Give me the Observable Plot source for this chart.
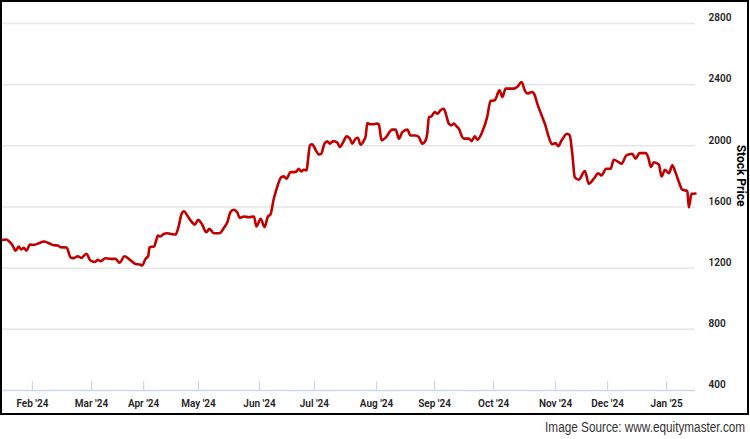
<!DOCTYPE html>
<html>
<head>
<meta charset="utf-8">
<script src="https://cdn.jsdelivr.net/npm/d3@7"></script>
<script src="https://cdn.jsdelivr.net/npm/@observablehq/plot@0.6"></script>
<style>
  html, body { margin: 0; padding: 0; background: #fff; }
  #wrap { width: 750px; }
  #chart svg { display: block; }
  #caption { font: 14px/16px "Liberation Sans", Arial, sans-serif; color: #333; text-align: right; padding-right: 5px; margin-top: 3px; }
  #caption span { display: inline-block; transform: scaleX(0.84); transform-origin: right center; }
</style>
</head>
<body>
<div id="wrap"><div id="chart"></div><div id="caption"><span>Image Source: www.equitymaster.com</span></div></div>
<script>
// Trading-day index (ordinal axis, ~2.8 px per session) and closing price
const days = [0,2.1,3.0,4.2,5.4,6.5,7.4,8.3,9.3,10.5,11.9,13.7,15.5,17.3,19.0,20.5,21.4,23.6,25.0,26.0,27.6,28.8,30.7,32.1,33.6,34.8,35.7,37.5,39.3,41.1,42.5,44.3,45.8,48.2,50.0,50.6,51.8,52.8,53.2,54.8,55.6,56.2,57.1,58.3,59.5,62.5,63.7,64.6,65.5,66.7,67.9,69.4,70.6,72.0,73.5,74.6,76.2,78.2,79.8,81.0,82.1,83.3,84.5,85.5,86.9,88.7,90.5,91.4,92.9,94.3,95.5,96.4,97.6,98.6,100.3,101.2,102.1,103.6,104.8,105.7,106.5,107.4,108.3,109.3,109.8,110.5,111.3,112.5,113.7,114.5,115.7,116.7,117.6,118.8,120.3,121.2,122.4,123.6,124.8,125.6,126.8,127.6,128.6,129.8,130.4,131.0,131.9,132.8,134.5,135.1,136.1,137.5,139.9,141.1,142.3,143.5,145.3,146.4,148.2,149.4,150.6,151.5,152.4,153.0,153.9,155.1,156.0,157.1,158.3,159.2,160.1,161.1,161.9,163.1,163.7,164.9,165.5,167.3,168.2,169.4,170.3,172.0,173.8,175.0,176.5,178.2,179.2,180.4,182.1,183.3,184.5,186.1,187.3,188.1,189.9,190.8,191.7,193.5,194.6,195.8,197.0,198.2,199.2,200.4,202.4,203.3,204.2,205.1,206.5,208.7,210.1,211.9,213.5,214.6,216.3,217.9,219.0,220.8,221.8,223.5,225.6,226.8,228.2,230.4,231.3,232.3,233.3,235.1,236.1,237.3,238.7,239.9,240.8,242.3,243.5,245.3,245.8,246.8,248.2];
const prices = [1381,1387,1376,1352,1315,1341,1322,1333,1315,1354,1352,1363,1374,1363,1350,1348,1337,1335,1271,1265,1278,1267,1294,1250,1241,1254,1245,1265,1261,1261,1235,1278,1261,1228,1223,1217,1261,1282,1337,1341,1381,1413,1407,1424,1428,1420,1479,1551,1572,1544,1512,1485,1516,1485,1435,1457,1428,1428,1464,1500,1566,1582,1566,1529,1538,1533,1538,1472,1523,1468,1538,1551,1654,1719,1795,1800,1785,1828,1828,1832,1850,1832,1844,1839,1905,2003,2010,1975,1944,1948,2014,2029,2014,2031,2021,1992,2025,2062,2047,2014,2047,2053,2007,2036,2062,2149,2141,2141,2145,2141,2036,2053,2106,2106,2047,2090,2106,2068,2068,2057,2014,2025,2079,2188,2193,2221,2210,2232,2243,2199,2145,2134,2145,2123,2112,2057,2047,2047,2031,2062,2040,2090,2188,2293,2298,2363,2319,2374,2374,2374,2385,2417,2359,2342,2352,2330,2276,2188,2134,2057,2010,2018,1998,2036,2079,2068,1948,1795,1778,1835,1752,1785,1821,1806,1850,1850,1909,1893,1883,1937,1948,1916,1952,1952,1926,1861,1893,1878,1800,1844,1821,1872,1839,1762,1713,1704,1597,1686,1688];
const monthTicks = [11.4,32.5,51.1,70.7,92.5,112.1,134.3,155,176.1,198.2,216.8,237.9];
const monthLabels = ["Feb '24","Mar '24","Apr '24","May '24","Jun '24","Jul '24","Aug '24","Sep '24","Oct '24","Nov '24","Dec '24","Jan '25"];
const yTicks = [400,800,1200,1600,2000,2400,2800];
const yLabel = "Stock Price";

const data = days.map((d, i) => ({day: d, price: prices[i]}));
const labelOf = new Map(monthTicks.map((t, i) => [t, monthLabels[i]]));

const chart = Plot.plot({
  width: 750,
  height: 416,
  marginLeft: 0,
  marginRight: 55,
  marginTop: 23,
  marginBottom: 26,
  style: {fontFamily: "Roboto, sans-serif", fontSize: "10px", fontWeight: 600, color: "#333", background: "#fff"},
  x: {domain: [0, 248.2]},
  y: {domain: [400, 2800]},
  marks: [
    Plot.gridY(yTicks.filter(t => t > 400), {stroke: "#e6e6e6", strokeOpacity: 1, strokeWidth: 1.5}),
    Plot.ruleY([400], {stroke: "#ccd6eb", strokeWidth: 1.5}),
    Plot.axisX(monthTicks, {anchor: "bottom", tickSize: -9, tickPadding: 18.5, stroke: "#ccd6eb", strokeWidth: 1.2, fill: "#222", tickFormat: d => labelOf.get(d), label: null}),
    Plot.axisY(yTicks, {anchor: "right", tickSize: 0, tickPadding: 13, textAnchor: "start", dy: -5.5, fill: "#222", tickFormat: d => String(d), label: null}),
    Plot.line(data, {x: "day", y: "price", stroke: "#c00000", strokeWidth: 2.6, curve: "monotone-x"})
  ]
});

const svg = d3.select(chart);
svg.append("rect").attr("x", 1).attr("y", 1).attr("width", 747).attr("height", 413)
  .attr("fill", "none").attr("stroke", "#000").attr("stroke-width", 2);
svg.append("text")
  .attr("transform", "translate(737,175.5) rotate(90)")
  .attr("text-anchor", "middle")
  .attr("font-family", "Roboto, sans-serif")
  .attr("font-size", 12)
  .attr("font-weight", 700)
  .attr("fill", "#000")
  .text(yLabel);

document.getElementById("chart").appendChild(chart);
</script>
</body>
</html>
